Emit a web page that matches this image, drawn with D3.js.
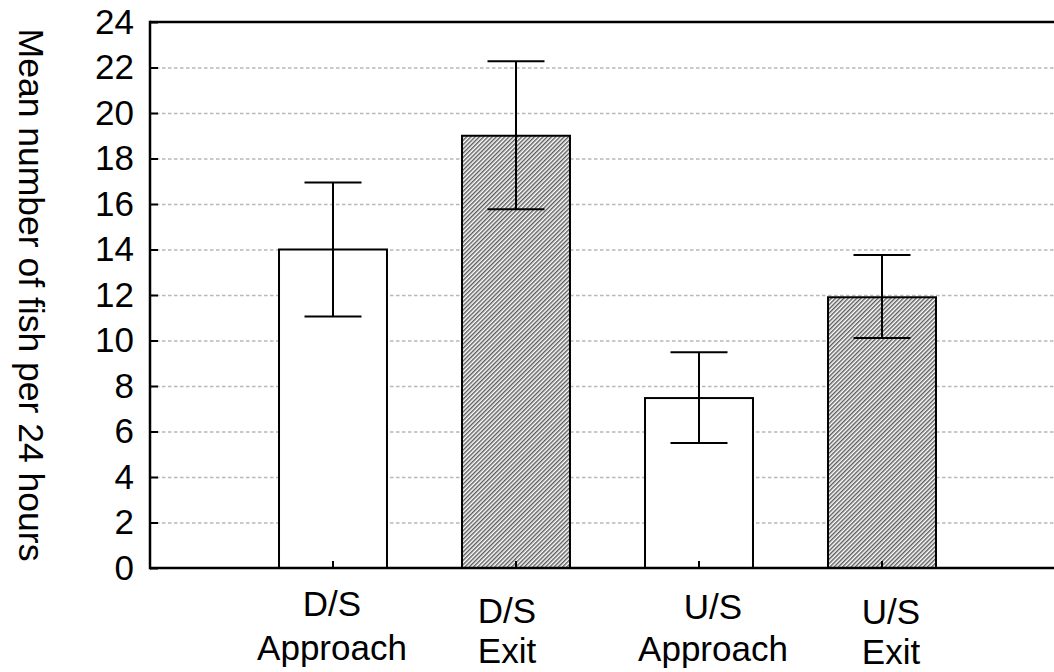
<!DOCTYPE html>
<html>
<head>
<meta charset="utf-8">
<script src="https://cdn.jsdelivr.net/npm/d3@7"></script>
<style>
  html, body { margin: 0; padding: 0; background: #fff; }
  svg { display: block; font-family: "Liberation Sans", Arial, sans-serif; }
</style>
</head>
<body>
<svg id="chart" width="1054" height="672"></svg>
<script>
// ---- data ----
const categories = ["D/S Approach", "D/S Exit", "U/S Approach", "U/S Exit"];
const labelLines = [["D/S", "Approach"], ["D/S", "Exit"], ["U/S", "Approach"], ["U/S", "Exit"]];
const means = [14, 19, 7.47, 11.9];
const errUpper = [16.95, 22.27, 9.48, 13.76];
const errLower = [11.05, 15.77, 5.49, 10.11];
const hatched = [false, true, false, true];
const yTicks = [0, 2, 4, 6, 8, 10, 12, 14, 16, 18, 20, 22, 24];
const yTitle = "Mean number of fish per 24 hours";

// ---- layout ----
const W = 1054, H = 672;
const plotLeft = 150, plotTop = 22, plotBottom = 568;
const labelDx = [-1, -9, 14, 9];
const labelBase = [[616, 660], [623, 663], [619, 661], [624, 664]];

const svg = d3.select("#chart");

const defs = svg.append("defs");
const pat = defs.append("pattern")
  .attr("id", "hatch")
  .attr("patternUnits", "userSpaceOnUse")
  .attr("width", 3).attr("height", 3)
  .attr("patternTransform", "rotate(45)");
pat.append("rect").attr("width", 3).attr("height", 3).attr("fill", "#fff");
pat.append("line").attr("x1", 0.75).attr("y1", 0).attr("x2", 0.75).attr("y2", 3)
  .attr("stroke", "#4a4a4a").attr("stroke-width", 1.3);

const y = d3.scaleLinear().domain([0, 24]).range([plotBottom, plotTop]);
const x = d3.scaleBand().domain(categories).range([241.5, 973.5]).paddingInner(0).paddingOuter(0);
const barW = x.bandwidth() * 0.59;
const capW = 57;

// gridlines
const grid = svg.append("g").attr("transform", `translate(${plotLeft},0)`)
  .call(d3.axisLeft(y).tickValues(yTicks.filter(v => v > 0 && v < 24)).tickSize(-(W - plotLeft)).tickFormat(""));
grid.select(".domain").remove();
grid.selectAll(".tick line")
  .attr("stroke", "#b8b8b8").attr("stroke-width", 1.6).attr("stroke-dasharray", "3.5,2.5");

// bars
svg.append("g").selectAll("rect").data(categories).join("rect")
  .attr("x", d => x(d) + x.bandwidth() / 2 - barW / 2)
  .attr("y", (d, i) => y(means[i]))
  .attr("width", barW)
  .attr("height", (d, i) => y(0) - y(means[i]))
  .attr("fill", (d, i) => hatched[i] ? "url(#hatch)" : "#fff")
  .attr("stroke", "#000").attr("stroke-width", 2);

// error bars
const eb = svg.append("g").attr("stroke", "#000").attr("stroke-width", 2);
categories.forEach((c, i) => {
  const cx = x(c) + x.bandwidth() / 2;
  eb.append("line").attr("x1", cx).attr("x2", cx).attr("y1", y(errUpper[i])).attr("y2", y(errLower[i]));
  eb.append("line").attr("x1", cx - capW / 2).attr("x2", cx + capW / 2).attr("y1", y(errUpper[i])).attr("y2", y(errUpper[i]));
  eb.append("line").attr("x1", cx - capW / 2).attr("x2", cx + capW / 2).attr("y1", y(errLower[i])).attr("y2", y(errLower[i]));
});

// y axis
const ya = svg.append("g").attr("transform", `translate(${plotLeft},0)`)
  .call(d3.axisLeft(y).tickValues(yTicks).tickSize(-8).tickPadding(16).tickFormat(d3.format("d")));
ya.select(".domain").remove();
ya.selectAll(".tick line").attr("stroke", "#000").attr("stroke-width", 2);
ya.selectAll(".tick text").attr("font-size", 35).attr("fill", "#000")
  .attr("font-family", "Liberation Sans, Arial, sans-serif");

// x axis ticks
const xa = svg.append("g").attr("transform", `translate(0,${plotBottom})`)
  .call(d3.axisBottom(x).tickSize(-7).tickFormat(""));
xa.select(".domain").remove();
xa.selectAll(".tick line").attr("stroke", "#000").attr("stroke-width", 2);

// frame lines
const fr = svg.append("g").attr("stroke", "#000").attr("stroke-width", 2.5).attr("fill", "none");
fr.append("line").attr("x1", plotLeft).attr("x2", plotLeft).attr("y1", plotTop - 1.25).attr("y2", plotBottom + 1.25);
fr.append("line").attr("x1", plotLeft).attr("x2", W).attr("y1", plotTop).attr("y2", plotTop);
fr.append("line").attr("x1", plotLeft).attr("x2", W).attr("y1", plotBottom).attr("y2", plotBottom);

// category labels
categories.forEach((c, i) => {
  const cx = x(c) + x.bandwidth() / 2 + labelDx[i];
  labelLines[i].forEach((t, j) => {
    svg.append("text").attr("x", cx).attr("y", labelBase[i][j])
      .attr("text-anchor", "middle").attr("font-size", 35).attr("fill", "#000").text(t);
  });
});

// y title
svg.append("text")
  .attr("transform", "translate(19,295) rotate(90)")
  .attr("text-anchor", "middle").attr("font-size", 35.5).attr("fill", "#000")
  .text(yTitle);
</script>
</body>
</html>
